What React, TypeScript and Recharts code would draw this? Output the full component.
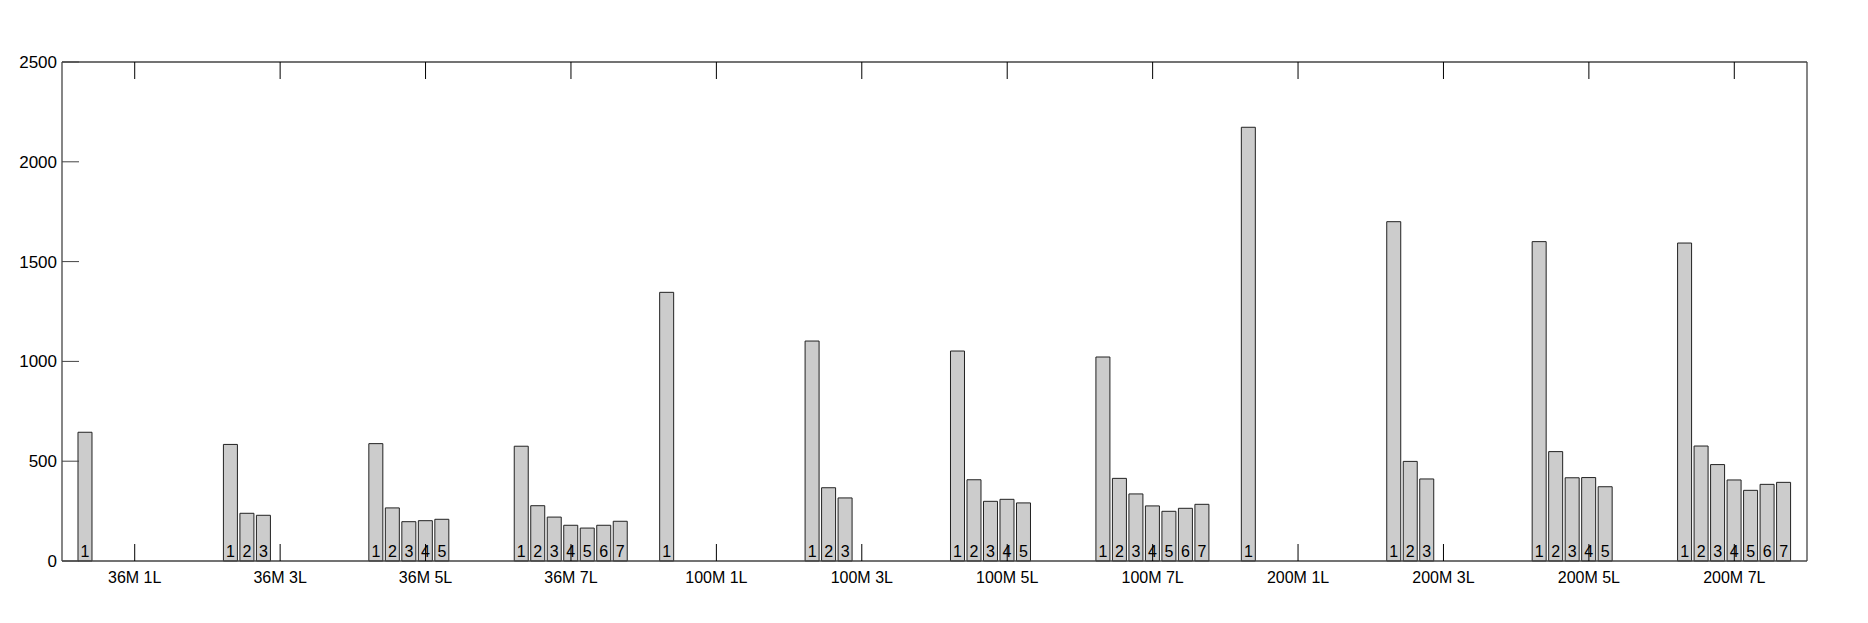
import { BarChart, Bar, XAxis, YAxis, LabelList } from 'recharts'

const categories = [
  '36M 1L', '36M 3L', '36M 5L', '36M 7L',
  '100M 1L', '100M 3L', '100M 5L', '100M 7L',
  '200M 1L', '200M 3L', '200M 5L', '200M 7L',
]

// one array per layer number (1..7), null where a config has fewer layers
const layer1 = [645, 584, 588, 575, 1346, 1102, 1052, 1022, 2173, 1700, 1600, 1593]
const layer2 = [null, 239, 266, 277, null, 367, 407, 414, null, 499, 548, 576]
const layer3 = [null, 229, 197, 220, null, 316, 299, 336, null, 411, 417, 483]
const layer4 = [null, null, 202, 179, null, null, 309, 276, null, null, 418, 406]
const layer5 = [null, null, 209, 165, null, null, 291, 249, null, null, 372, 354]
const layer6 = [null, null, null, 179, null, null, null, 264, null, null, null, 384]
const layer7 = [null, null, null, 199, null, null, null, 284, null, null, null, 394]

const layerNames = ['1', '2', '3', '4', '5', '6', '7']
const yTicks = [0, 500, 1000, 1500, 2000, 2500]

const layers = [layer1, layer2, layer3, layer4, layer5, layer6, layer7]

const data = categories.map((name, i) => {
  const row: { [key: string]: string | number | null } = { name }
  layers.forEach((arr, j) => {
    row['s' + (j + 1)] = arr[i]
  })
  return row
})

const FONT = '"Liberation Sans", Arial, Helvetica, sans-serif'
const TICK = 17

const BottomTick = ({ x, y, payload }: any) => (
  <g>
    <line x1={x} x2={x} y1={y} y2={y - TICK} stroke="#000" />
    <text x={x} y={y + 22} textAnchor="middle" fontSize={16} fontFamily={FONT} fill="#000">
      {payload.value}
    </text>
  </g>
)

const TopTick = ({ x, y }: any) => (
  <line x1={x} x2={x} y1={y} y2={y + TICK} stroke="#000" />
)

const LeftTick = ({ x, y, payload }: any) => (
  <g>
    <line x1={x} x2={x + TICK} y1={y} y2={y} stroke="#444" />
    <text x={x - 5} y={y + 6} textAnchor="end" fontSize={17} fontFamily={FONT} fill="#000">
      {payload.value}
    </text>
  </g>
)

const RightTick = ({ x, y }: any) => (
  <line x1={x} x2={x - TICK} y1={y} y2={y} stroke="#444" />
)

const makeLabel = (n: string) => (props: any) => {
  const { x, y, width, height, value } = props
  if (value == null) return null
  return (
    <text
      x={x + width / 2}
      y={y + height - 4}
      textAnchor="middle"
      fontSize={16}
      fontFamily={FONT}
      fill="#000"
    >
      {n}
    </text>
  )
}

export default function App() {
  return (
    <BarChart
      width={1852}
      height={600}
      data={data}
      margin={{ top: 24, right: 0, bottom: 7, left: 0 }}
      barCategoryGap="11%"
      barGap={2.5}
    >
      <XAxis
        dataKey="name"
        interval={0}
        height={40}
        tickSize={0}
        tickMargin={0}
        tickLine={false}
        tick={<BottomTick />}
        axisLine={{ stroke: '#444', strokeWidth: 1.3 }}
      />
      <XAxis
        xAxisId="t"
        dataKey="name"
        orientation="top"
        interval={0}
        height={30}
        tickSize={0}
        tickMargin={0}
        tickLine={false}
        tick={<TopTick />}
        axisLine={{ stroke: '#444', strokeWidth: 1.3 }}
      />
      <YAxis
        width={54}
        domain={[0, 2500]}
        ticks={yTicks}
        interval={0}
        tickSize={0}
        tickMargin={0}
        tickLine={false}
        tick={<LeftTick />}
        axisLine={{ stroke: '#444', strokeWidth: 1.3 }}
      />
      <YAxis
        yAxisId="r"
        orientation="right"
        width={53}
        domain={[0, 2500]}
        ticks={yTicks}
        interval={0}
        tickSize={0}
        tickMargin={0}
        tickLine={false}
        tick={<RightTick />}
        axisLine={{ stroke: '#444', strokeWidth: 1.3 }}
      />
      {layerNames.map((n, j) => (
        <Bar
          key={n}
          dataKey={'s' + (j + 1)}
          fill="#cccccc"
          stroke="#222"
          strokeWidth={1}
          isAnimationActive={false}
        >
          <LabelList dataKey={'s' + (j + 1)} content={makeLabel(n)} />
        </Bar>
      ))}
    </BarChart>
  )
}
